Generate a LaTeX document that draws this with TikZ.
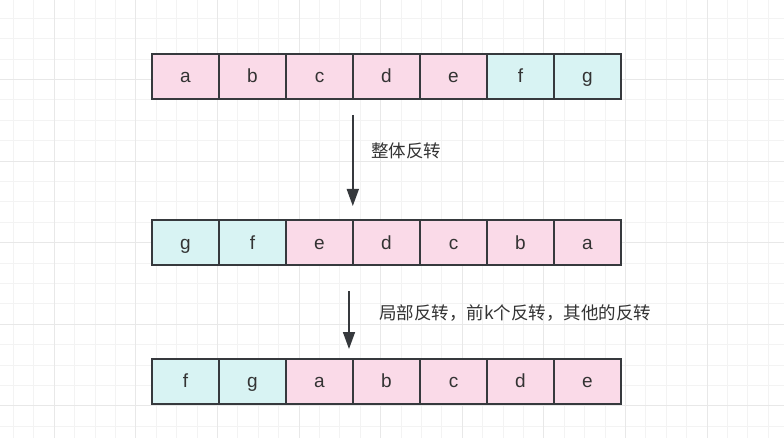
\documentclass[tikz,border=0pt]{standalone}
\usepackage{fontspec}
\setmainfont{Liberation Sans}
\newfontfamily\cjk{Noto Sans CJK SC}
\usetikzlibrary{arrows.meta}
\definecolor{pinkc}{HTML}{FADAE8}
\definecolor{tealc}{HTML}{D8F3F3}
\definecolor{edge}{HTML}{36393D}
\definecolor{txt}{HTML}{333333}
\definecolor{gthin}{HTML}{F3F3F3}
\definecolor{gthick}{HTML}{E8E8E8}
\begin{document}
\begin{tikzpicture}[x=1pt,y=-1pt,
  cell/.style={draw=edge, line width=1.6pt, minimum width=67pt, minimum height=45pt, inner sep=0pt, outer sep=0pt, font=\fontsize{19}{19}\selectfont, text=txt, text height=15.2pt, text depth=2.3pt},
  pk/.style={cell, fill=pinkc},
  tl/.style={cell, fill=tealc},
  arr/.style={draw=edge, line width=1.6pt, -{Triangle[length=17pt,width=12pt]}},
  lbl/.style={font=\cjk\fontsize{17.5}{17.5}\selectfont, text=txt, inner sep=0pt}]
\useasboundingbox (0,0) rectangle (784,438);
\fill[white] (0,0) rectangle (784,438);
\foreach \i in {0,...,38} {\draw[gthin, line width=0.9pt] (13.5+20.4*\i,0) -- ++(0,438);}
\foreach \i in {0,...,21} {\draw[gthin, line width=0.9pt] (0,18.3+20.4*\i) -- ++(784,0);}
\foreach \i in {0,...,9} {\draw[gthick, line width=0.9pt] (54.3+81.6*\i,0) -- ++(0,438);}
\foreach \i in {0,...,4} {\draw[gthick, line width=0.9pt] (0,79.5+81.6*\i) -- ++(784,0);}
% row 1
\foreach \t/\s [count=\i from 0] in {a/pk,b/pk,c/pk,d/pk,e/pk,f/tl,g/tl}
  {\node[\s] (ra\i) at (185.5+67*\i,76.5) {\t};}
% row 2
\foreach \t/\s [count=\i from 0] in {g/tl,f/tl,e/pk,d/pk,c/pk,b/pk,a/pk}
  {\node[\s] (rb\i) at (185.5+67*\i,242.8) {\t};}
% row 3
\foreach \t/\s [count=\i from 0] in {f/tl,g/tl,a/pk,b/pk,c/pk,d/pk,e/pk}
  {\node[\s] (rc\i) at (185.5+67*\i,381.5) {\t};}
\coordinate (s1) at (352.8,115);
\coordinate (e1) at (352.8,206);
\draw[arr] (s1) -- (e1);
\node[lbl] (l1) at (406,151) {整体反转};
\coordinate (s2) at (349,291);
\coordinate (e2) at (349,349);
\draw[arr] (s2) -- (e2);
\node[lbl, anchor=west] (l2) at (379,313) {局部反转，前k个反转，其他的反转};
\end{tikzpicture}
\end{document}
